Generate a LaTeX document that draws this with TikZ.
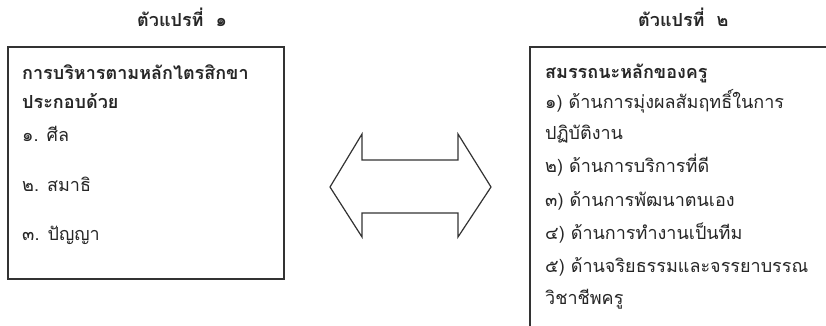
\documentclass[tikz,border=0pt]{standalone}
\usepackage{fontspec}
\newfontfamily\thaifont[Script=Thai]{Loma}
\begin{document}
\begin{tikzpicture}[x=1pt,y=-1pt,
  every node/.style={font=\thaifont\fontsize{18}{21}\selectfont, text=black!85, inner sep=0pt, anchor=west, text height=13pt, text depth=4pt},
  title/.style={font=\thaifont\bfseries\fontsize{18}{21}\selectfont},
  head/.style={font=\thaifont\bfseries\fontsize{18}{21}\selectfont},
  frame/.style={draw=black!80, line width=1.4pt},
  bigarrow/.style={draw=black!80, line width=1.2pt, line join=miter, fill=white}]
\clip (0,0) rectangle (826,325);
\fill[white] (0,0) rectangle (826,325);
% boxes
\draw[frame] (8,47) rectangle (284,279);
\draw[frame] (530,47) rectangle (900,400);
% titles
\node[title] (t1) at (137,22) {ตัวแปรที่\ \ ๑};
\node[title] (t2) at (638,22) {ตัวแปรที่\ \ ๒};
% left box text
\node[head] (l1) at (22,75) {การบริหารตามหลักไตรสิกขา};
\node[head] (l2) at (22,104) {ประกอบด้วย};
\node (l3) at (22,137) {๑. ศีล};
\node (l4) at (22,187) {๒. สมาธิ};
\node (l5) at (22,236) {๓. ปัญญา};
% right box text
\node[head] (r1) at (545,74) {สมรรถนะหลักของครู};
\node (r2) at (545,104) {๑) ด้านการมุ่งผลสัมฤทธิ์ในการ};
\node (r3) at (545,135) {ปฏิบัติงาน};
\node (r4) at (545,168) {๒) ด้านการบริการที่ดี};
\node (r5) at (545,202) {๓) ด้านการพัฒนาตนเอง};
\node (r6) at (545,235) {๔) ด้านการทำงานเป็นทีม};
\node (r7) at (545,268) {๕) ด้านจริยธรรมและจรรยาบรรณ};
\node (r8) at (545,300) {วิชาชีพครู};
% double arrow
\draw[bigarrow] (330,187) -- (362,134) -- (362,160) -- (458,160) -- (458,134)
  -- (491,187) -- (458,237) -- (458,213) -- (362,213) -- (362,237) -- cycle;
\end{tikzpicture}
\end{document}
